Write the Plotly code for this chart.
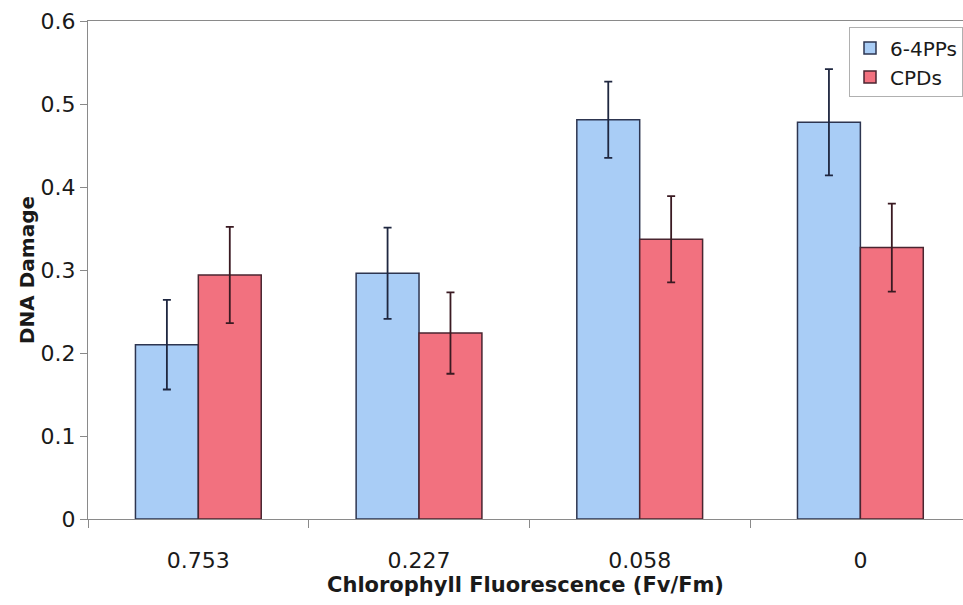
import plotly.graph_objects as go

# Fv/Fm categories and mean DNA damage (with error) for each lesion type
categories = ["0.753", "0.227", "0.058", "0"]
pp64_values = [0.210, 0.296, 0.481, 0.478]
pp64_errors = [0.054, 0.055, 0.046, 0.064]
cpd_values = [0.294, 0.224, 0.337, 0.327]
cpd_errors = [0.058, 0.049, 0.052, 0.053]
y_ticks = [0, 0.1, 0.2, 0.3, 0.4, 0.5, 0.6]
y_tick_text = ["0", "0.1", "0.2", "0.3", "0.4", "0.5", "0.6"]

FONT = "DejaVu Sans"
AXIS_GRAY = "#8a8a8a"

fig = go.Figure()
fig.add_trace(go.Bar(
    name="6-4PPs", x=categories, y=pp64_values,
    marker=dict(color="#a9cdf6", line=dict(color="#2d3550", width=1.5)),
    error_y=dict(type="data", array=pp64_errors, visible=True,
                 color="#1f2740", thickness=1.8, width=4),
))
fig.add_trace(go.Bar(
    name="CPDs", x=categories, y=cpd_values,
    marker=dict(color="#f2717f", line=dict(color="#4a2530", width=1.5)),
    error_y=dict(type="data", array=cpd_errors, visible=True,
                 color="#3a1a22", thickness=1.8, width=4),
))

fig.update_layout(
    width=963, height=605,
    margin=dict(l=88, r=0, t=21, b=86),
    paper_bgcolor="white", plot_bgcolor="white",
    barmode="group", bargap=0.43, bargroupgap=0,
    font=dict(family=FONT, size=20, color="#1a1a1a"),
    showlegend=True,
    legend=dict(
        x=0.87, y=0.987, xanchor="left", yanchor="top",
        bgcolor="white", bordercolor="#b0b0b0", borderwidth=1,
        font=dict(family=FONT, size=20, color="#1a1a1a"),
        itemwidth=30, tracegroupgap=2,
    ),
    xaxis=dict(
        range=[-0.5, 3.465],
        showline=True, linecolor=AXIS_GRAY, linewidth=1, mirror=True,
        ticks="outside", tickson="boundaries", ticklen=8, tickcolor=AXIS_GRAY,
        ticklabelstandoff=22,
        showgrid=False, zeroline=False,
        tickfont=dict(family=FONT, size=22),
        title=dict(text="<b>Chlorophyll Fluorescence (Fv/Fm)</b>",
                   font=dict(family=FONT, size=21), standoff=0),
    ),
    yaxis=dict(
        range=[0, 0.6], tickvals=y_ticks, ticktext=y_tick_text,
        showline=True, linecolor=AXIS_GRAY, linewidth=1,
        ticks="outside", ticklen=7, tickcolor=AXIS_GRAY,
        showgrid=False, zeroline=False,
        tickfont=dict(family=FONT, size=22),
        title=dict(text="<b>DNA Damage</b>",
                   font=dict(family=FONT, size=20), standoff=0),
    ),
)

fig.write_html("out.html")
